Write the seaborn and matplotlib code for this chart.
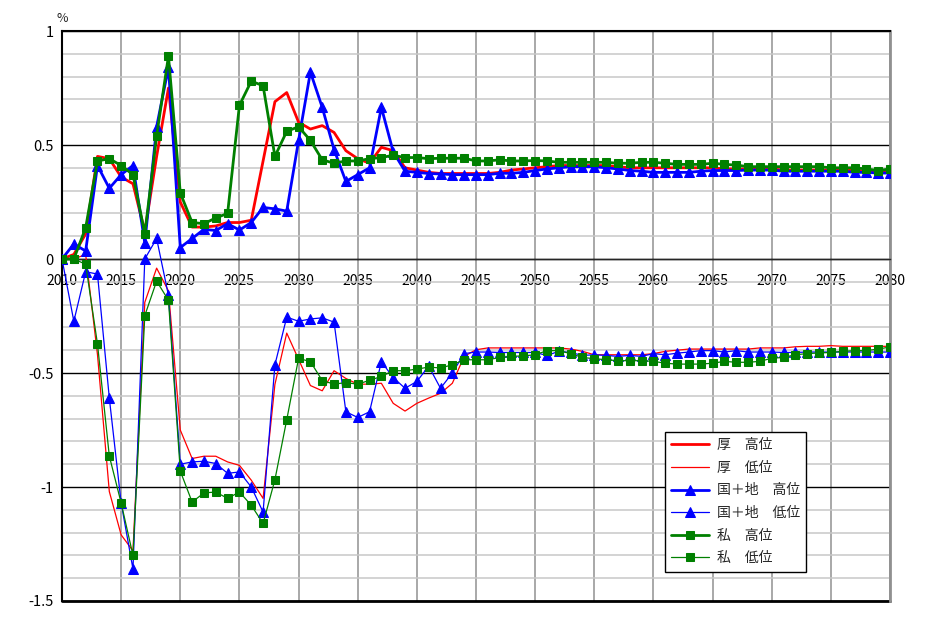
import matplotlib
matplotlib.use("Agg")
import matplotlib.pyplot as plt
import numpy as np
import seaborn as sns

years = list(range(2010, 2081))

kose_high = [0.00, 0.02, 0.11, 0.45, 0.44, 0.36, 0.33, 0.12, 0.45, 0.75,
             0.25, 0.14, 0.14, 0.145, 0.16, 0.16, 0.17, 0.43, 0.69, 0.73,
             0.60, 0.57, 0.585, 0.555, 0.475, 0.44, 0.42, 0.49, 0.475, 0.40,
             0.39, 0.38, 0.375, 0.375, 0.375, 0.375, 0.375, 0.38, 0.39, 0.395,
             0.40, 0.405, 0.41, 0.41, 0.41, 0.41, 0.41, 0.405, 0.40, 0.40,
             0.40, 0.40, 0.40, 0.40, 0.40, 0.40, 0.395, 0.395, 0.395, 0.395,
             0.395, 0.39, 0.39, 0.39, 0.39, 0.39, 0.39, 0.39, 0.385, 0.385,
             0.385]
kose_low = [0.00, 0.00, 0.02, -0.42, -1.02, -1.21, -1.28, -0.19, -0.04, -0.14,
            -0.75, -0.875, -0.865, -0.865, -0.89, -0.905, -0.97, -1.05, -0.55, -0.325,
            -0.44, -0.555, -0.578, -0.49, -0.524, -0.549, -0.549, -0.545, -0.633, -0.667,
            -0.633, -0.61, -0.589, -0.545, -0.427, -0.398, -0.39, -0.39, -0.39, -0.39,
            -0.39, -0.39, -0.39, -0.395, -0.405, -0.42, -0.42, -0.42, -0.42, -0.42,
            -0.415, -0.405, -0.40, -0.395, -0.395, -0.395, -0.395, -0.395, -0.395, -0.39,
            -0.39, -0.39, -0.385, -0.383, -0.383, -0.38, -0.383, -0.383, -0.383, -0.383,
            -0.383]
koku_high = [0.00, 0.066, 0.035, 0.41, 0.31, 0.37, 0.41, 0.07, 0.58, 0.84,
             0.05, 0.09, 0.13, 0.125, 0.155, 0.127, 0.16, 0.226, 0.22, 0.21,
             0.52, 0.82, 0.665, 0.48, 0.34, 0.37, 0.40, 0.665, 0.47, 0.385,
             0.38, 0.375, 0.373, 0.37, 0.37, 0.37, 0.37, 0.376, 0.376, 0.38,
             0.388, 0.395, 0.40, 0.405, 0.405, 0.405, 0.40, 0.395, 0.388, 0.385,
             0.38, 0.38, 0.38, 0.38, 0.385, 0.388, 0.388, 0.388, 0.39, 0.39,
             0.39, 0.385, 0.385, 0.385, 0.385, 0.385, 0.385, 0.38, 0.38, 0.377,
             0.377]
koku_low = [0.00, -0.273, -0.056, -0.066, -0.61, -1.07, -1.36, 0.00, 0.09, -0.16,
            -0.90, -0.89, -0.887, -0.897, -0.94, -0.934, -1.00, -1.11, -0.464, -0.255,
            -0.273, -0.263, -0.258, -0.277, -0.67, -0.695, -0.67, -0.45, -0.52, -0.567,
            -0.537, -0.47, -0.567, -0.50, -0.415, -0.408, -0.408, -0.41, -0.41, -0.41,
            -0.41, -0.423, -0.405, -0.41, -0.423, -0.42, -0.423, -0.427, -0.423, -0.427,
            -0.415, -0.42, -0.413, -0.408, -0.402, -0.402, -0.408, -0.402, -0.408, -0.408,
            -0.408, -0.41, -0.41, -0.408, -0.408, -0.408, -0.408, -0.408, -0.408, -0.408,
            -0.408]
shi_high = [0.00, 0.00, 0.137, 0.43, 0.44, 0.41, 0.37, 0.11, 0.54, 0.89,
            0.29, 0.16, 0.155, 0.18, 0.20, 0.674, 0.78, 0.76, 0.45, 0.56,
            0.58, 0.52, 0.435, 0.42, 0.43, 0.43, 0.44, 0.445, 0.455, 0.445,
            0.445, 0.44, 0.442, 0.442, 0.442, 0.43, 0.43, 0.435, 0.43, 0.43,
            0.432, 0.43, 0.424, 0.424, 0.424, 0.424, 0.424, 0.42, 0.42, 0.424,
            0.424, 0.42, 0.415, 0.415, 0.415, 0.42, 0.415, 0.412, 0.405, 0.405,
            0.405, 0.405, 0.405, 0.405, 0.405, 0.40, 0.40, 0.40, 0.395, 0.388,
            0.395]
shi_low = [0.00, 0.00, -0.023, -0.373, -0.864, -1.07, -1.30, -0.248, -0.097, -0.181,
           -0.93, -1.066, -1.026, -1.022, -1.05, -1.022, -1.08, -1.16, -0.968, -0.705,
           -0.436, -0.45, -0.533, -0.549, -0.542, -0.549, -0.532, -0.515, -0.49, -0.49,
           -0.483, -0.474, -0.478, -0.464, -0.442, -0.442, -0.442, -0.432, -0.427, -0.425,
           -0.42, -0.402, -0.402, -0.415, -0.432, -0.437, -0.442, -0.446, -0.446, -0.446,
           -0.449, -0.457, -0.461, -0.461, -0.461, -0.457, -0.449, -0.453, -0.453, -0.449,
           -0.435, -0.432, -0.42, -0.415, -0.412, -0.41, -0.405, -0.402, -0.402, -0.395,
           -0.386]

labels = ["厚　高位", "厚　低位", "国＋地　高位", "国＋地　低位", "私　高位", "私　低位"]
year_ticks = list(range(2010, 2081, 5))
y_ticks = [1, 0.5, 0, -0.5, -1, -1.5]
y_tick_labels = ["1", "0.5", "0", "-0.5", "-1", "-1.5"]

sns.set_style("white")
plt.rcParams["font.family"] = ["Noto Sans CJK JP", "DejaVu Sans"]

fig = plt.figure(figsize=(9.25, 6.24), dpi=100)
ax = fig.add_axes([62 / 925, 23 / 624, 828 / 925, 570 / 624])

# series: (values, colour, marker, line width)
series = [
    (kose_high, "#ff0000", None, 2.0),
    (kose_low, "#ff0000", None, 0.9),
    (koku_high, "#0000ff", "^", 2.0),
    (koku_low, "#0000ff", "^", 0.9),
    (shi_high, "#008000", "s", 2.0),
    (shi_low, "#008000", "s", 0.9),
]
for i, (vals, col, mk, lw) in enumerate(series):
    kw = {}
    if mk is not None:
        kw = dict(marker=mk, markersize=6.5 if mk == "^" else 6,
                  markerfacecolor=col, markeredgecolor=col)
    sns.lineplot(x=years, y=vals, ax=ax, color=col, linewidth=lw,
                 label=labels[i], zorder=3 + i, **kw)

ax.set_xlim(2010, 2080)
ax.set_ylim(-1.5, 1)

# grid
ax.set_yticks(y_ticks)
ax.set_yticklabels(y_tick_labels, fontsize=10.5)
ax.set_yticks(np.arange(-1.5, 1.001, 0.1), minor=True)
ax.set_xticks(year_ticks)
ax.set_xticklabels([str(y) for y in year_ticks], fontsize=10.5)
ax.grid(which="minor", axis="y", color="#c8c8c8", linewidth=1.1)
ax.grid(which="major", axis="y", color="black", linewidth=1.0)
ax.grid(which="major", axis="x", color="#a8a8a8", linewidth=1.4)
ax.set_axisbelow(True)

# x labels sit on the zero line
ax.spines["bottom"].set_position(("data", 0))
ax.spines["bottom"].set_linewidth(1.0)
ax.axhline(-1.5, color="black", linewidth=2.0, clip_on=False, zorder=2)
ax.spines["top"].set_color("black")
ax.spines["top"].set_linewidth(1.5)
ax.spines["left"].set_color("black")
ax.spines["left"].set_linewidth(1.5)
ax.spines["right"].set_color("#909090")
ax.spines["right"].set_linewidth(2.0)
ax.tick_params(axis="x", length=0, pad=11, colors="black")
ax.tick_params(axis="y", which="major", length=0, pad=6, colors="black")
ax.tick_params(axis="y", which="minor", length=0)
ax.set_xlabel("")
ax.set_ylabel("")

ax.text(0.0, 1.01, "%", transform=ax.transAxes, fontsize=9, ha="center", va="bottom")

leg = ax.legend(loc="upper left", bbox_to_anchor=(0.728, 0.2965), fontsize=10,
                frameon=True, fancybox=False, edgecolor="black", framealpha=1,
                handlelength=2.7, labelspacing=0.62, borderpad=0.45,
                handletextpad=0.6, borderaxespad=0)
leg.get_frame().set_linewidth(1.0)

fig.savefig("out.png", dpi=100)
